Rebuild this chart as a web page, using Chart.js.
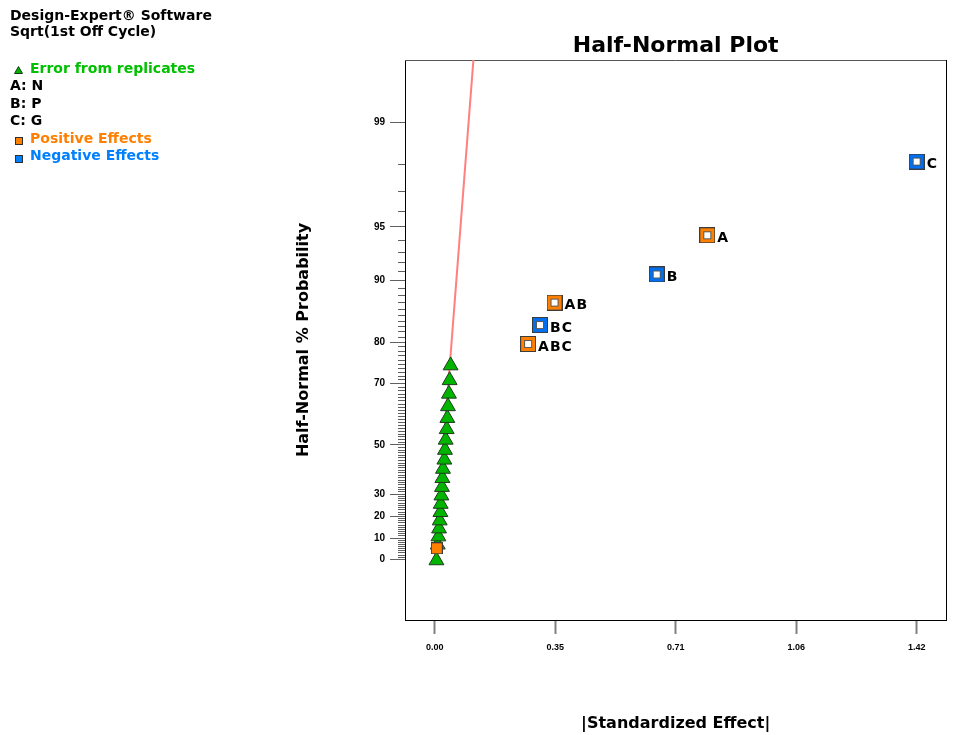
<!DOCTYPE html>
<html>
<head>
<meta charset="utf-8">
<script src="https://cdn.jsdelivr.net/npm/chart.js@4.4.1/dist/chart.umd.min.js"></script>
<style>
  html, body { margin:0; padding:0; background:#fff; width:956px; height:735px; overflow:hidden; }
  #c { position:absolute; left:0; top:0; }
  .t { position:absolute; font-family:"DejaVu Sans", sans-serif; font-weight:bold; font-size:14px; line-height:17px; white-space:nowrap; color:#000; }
  .m { position:absolute; }
</style>
</head>
<body>
<canvas id="c" width="956" height="735"></canvas>

<div class="t" style="left:10px;top:7px;">Design-Expert® Software</div>
<div class="t" style="left:10px;top:23px;">Sqrt(1st Off Cycle)</div>

<svg class="m" style="left:14px;top:66px;" width="9" height="8"><polygon points="4.5,0.5 8.5,7.5 0.5,7.5" fill="#00b400" stroke="#1a3a1a" stroke-width="1"/></svg>
<div class="t" style="left:30px;top:60px;color:#00c000;">Error from replicates</div>
<div class="t" style="left:10px;top:77px;">A: N</div>
<div class="t" style="left:10px;top:94.5px;">B: P</div>
<div class="t" style="left:10px;top:112px;">C: G</div>
<svg class="m" style="left:15px;top:137px;" width="8" height="8"><rect x="0.5" y="0.5" width="7" height="7" fill="#ff8000" stroke="#303030" stroke-width="1"/></svg>
<div class="t" style="left:30px;top:130px;color:#ff8000;">Positive Effects</div>
<svg class="m" style="left:15px;top:155px;" width="8" height="8"><rect x="0.5" y="0.5" width="7" height="7" fill="#0080ff" stroke="#303030" stroke-width="1"/></svg>
<div class="t" style="left:30px;top:147px;color:#0080ff;">Negative Effects</div>

<script>
// ---------------- data ----------------
const effectNames  = ['C', 'A', 'B', 'AB', 'BC', 'ABC', 'AC'];
const effectValues = [1.42, 0.803, 0.654, 0.353, 0.310, 0.275, 0.006];
const effectProbs  = [98.1, 94.4, 90.7, 87.0, 83.3, 79.6, 5.2];     // half-normal % probability
const effectSigns  = ['neg', 'pos', 'neg', 'pos', 'neg', 'pos', 'pos'];
const effectInModel = [true, true, true, true, true, true, false];

const errorValues = [0.005, 0.0088, 0.0108, 0.0126, 0.0146, 0.0167, 0.0175, 0.0196, 0.0213, 0.0225,
                     0.0242, 0.0283, 0.0301, 0.0321, 0.0351, 0.0371, 0.0389, 0.0418, 0.0438, 0.0467];
const errorProbs  = [-0.5, 6.9, 10.7, 14.4, 18.1, 21.9, 25.6, 29.3, 33.0, 36.8,
                     40.6, 44.3, 48.1, 51.9, 55.7, 59.5, 63.3, 67.1, 70.9, 74.7];

const lineValues = [0, 0.114];
const lineProbs  = [0, 99.68];

const xTickValues = [0, 0.355, 0.71, 1.065, 1.42];
const xTickLabels = ['0.00', '0.35', '0.71', '1.06', '1.42'];
const yMajorTicks = [0, 10, 20, 30, 50, 70, 80, 90, 95, 99];
const yMinorTicks = Array.from({length: 100}, (_, i) => i);

// ---------------- half-normal probability transform ----------------
function normInv(p) {
  const a=[-3.969683028665376e+01,2.209460984245205e+02,-2.759285104469687e+02,1.383577518672690e+02,-3.066479806614716e+01,2.506628277459239e+00];
  const b=[-5.447609879822406e+01,1.615858368580409e+02,-1.556989798598866e+02,6.680131188771972e+01,-1.328068155288572e+01];
  const c=[-7.784894002430293e-03,-3.223964580411365e-01,-2.400758277161838e+00,-2.549732539343734e+00,4.374664141464968e+00,2.938163982698783e+00];
  const d=[7.784695709041462e-03,3.224671290700398e-01,2.445134137142996e+00,3.754408661907416e+00];
  const pl = 0.02425, ph = 1 - pl;
  let q, r;
  if (p < pl) { q = Math.sqrt(-2*Math.log(p)); return (((((c[0]*q+c[1])*q+c[2])*q+c[3])*q+c[4])*q+c[5])/((((d[0]*q+d[1])*q+d[2])*q+d[3])*q+1); }
  if (p <= ph) { q = p - 0.5; r = q*q; return (((((a[0]*r+a[1])*r+a[2])*r+a[3])*r+a[4])*r+a[5])*q/(((((b[0]*r+b[1])*r+b[2])*r+b[3])*r+b[4])*r+1); }
  q = Math.sqrt(-2*Math.log(1-p)); return -(((((c[0]*q+c[1])*q+c[2])*q+c[3])*q+c[4])*q+c[5])/((((d[0]*q+d[1])*q+d[2])*q+d[3])*q+1);
}
const hn = pct => normInv(0.5 + pct / 200);

// axis ranges (in effect units / half-normal z units)
const X_MIN = -0.0877, X_MAX = 1.5077;
const Y_MIN = -0.3575, Y_MAX = 2.9446;

// scales must not ask the layout for extra padding
const NO_PAD = () => ({ left: 0, top: 0, right: 0, bottom: 0 });
function zeroPad(s) {
  s.paddingLeft = s.paddingRight = s.paddingTop = s.paddingBottom = 0;
  s.getPadding = NO_PAD;
}

// ---------------- markers ----------------
const COLORS = { pos: '#ff8000', neg: '#0070f0' };
function makeSquare(color, size, hollow) {
  const cv = document.createElement('canvas');
  cv.width = cv.height = size;
  const g = cv.getContext('2d');
  g.fillStyle = '#3c3c3c'; g.fillRect(0, 0, size, size);
  g.fillStyle = color; g.fillRect(1, 1, size - 2, size - 2);
  if (hollow) {
    g.fillStyle = '#5a5a5a'; g.fillRect(4, 4, size - 8, size - 8);
    g.fillStyle = '#ffffff'; g.fillRect(5, 5, size - 10, size - 10);
  }
  return cv;
}
const effectMarkers = effectNames.map((n, i) =>
  effectInModel[i] ? makeSquare(COLORS[effectSigns[i]], 16, true) : makeSquare(COLORS[effectSigns[i]], 12, false));

// ---------------- plugins ----------------
const framePlugin = {
  id: 'frame',
  beforeDatasetsDraw(chart) {
    const {ctx, chartArea: a} = chart;
    ctx.save();
    ctx.lineWidth = 1;
    ctx.strokeStyle = '#555';
    ctx.beginPath(); ctx.moveTo(a.left, Math.round(a.top) + 0.5); ctx.lineTo(a.right, Math.round(a.top) + 0.5); ctx.stroke();
    ctx.strokeStyle = '#000';
    ctx.beginPath(); ctx.moveTo(Math.round(a.right) + 0.5, a.top); ctx.lineTo(Math.round(a.right) + 0.5, a.bottom); ctx.stroke();
    ctx.restore();
  }
};
const labelPlugin = {
  id: 'effectLabels',
  afterDatasetsDraw(chart) {
    const meta = chart.getDatasetMeta(0);
    const {ctx} = chart;
    ctx.save();
    ctx.font = 'bold 14px "DejaVu Sans"';
    try { ctx.letterSpacing = '1px'; } catch (e) {}
    ctx.fillStyle = '#000';
    ctx.textAlign = 'left';
    ctx.textBaseline = 'middle';
    meta.data.forEach((pt, i) => {
      if (!effectInModel[i]) return;
      ctx.fillText(effectNames[i], pt.x + 10, pt.y + 3);
    });
    ctx.restore();
  }
};

// ---------------- chart ----------------
const tickFont = size => ({ family: '"Liberation Sans", Arial, sans-serif', weight: 'bold', size });
const titleFont = size => ({ family: '"DejaVu Sans", sans-serif', weight: 'bold', size });

new Chart(document.getElementById('c'), {
  type: 'scatter',
  data: {
    datasets: [
      {
        label: 'Effects',
        data: effectValues.map((v, i) => ({ x: v, y: hn(effectProbs[i]) })),
        pointStyle: effectMarkers,
        pointRadius: 8,
        order: 0
      },
      {
        label: 'Error from replicates',
        data: errorValues.map((v, i) => ({ x: v, y: hn(errorProbs[i]) })),
        pointStyle: 'triangle',
        pointRadius: 8.6,
        backgroundColor: '#00b400',
        borderColor: '#1e3c1e',
        borderWidth: 1,
        order: 1
      },
      {
        label: 'line',
        type: 'line',
        data: lineValues.map((v, i) => ({ x: v, y: hn(lineProbs[i]) })),
        borderColor: '#ff8080',
        borderWidth: 2,
        pointRadius: 0,
        fill: false,
        order: 2
      }
    ]
  },
  options: {
    responsive: false,
    animation: false,
    events: [],
    layout: { padding: { left: 290, right: 5, top: 0, bottom: 0 } },
    plugins: {
      legend: { display: false },
      tooltip: { enabled: false },
      title: {
        display: true,
        text: 'Half-Normal Plot',
        fullSize: false,
        color: '#000',
        font: titleFont(22),
        padding: { top: 33, bottom: 0.6 }
      }
    },
    scales: {
      x: {
        type: 'linear',
        position: 'bottom',
        min: X_MIN, max: X_MAX,
        afterBuildTicks: s => { s.ticks = xTickValues.map(v => ({ value: v })); },
        afterFit: s => { s.height = 115; zeroPad(s); },
        ticks: {
          callback: (v, i) => xTickLabels[i],
          font: tickFont(9), color: '#000', padding: 8,
          maxRotation: 0, autoSkip: false
        },
        grid: { drawOnChartArea: false, tickLength: 14, tickColor: '#808080', tickWidth: 2 },
        border: { color: '#000', width: 1 },
        title: {
          display: true, text: '|Standardized Effect|', color: '#000',
          font: titleFont(16), padding: { top: 0, bottom: 1.4 }
        }
      },
      y: {
        type: 'linear',
        position: 'left',
        min: Y_MIN, max: Y_MAX,
        afterBuildTicks: s => { s.ticks = yMajorTicks.map(p => ({ value: hn(p) })); },
        afterFit: s => { s.width = 115; zeroPad(s); },
        ticks: {
          callback: (v, i) => String(yMajorTicks[i]),
          font: tickFont(10), color: '#000', padding: 5, autoSkip: false
        },
        grid: { drawOnChartArea: false, tickLength: 15, tickColor: '#606060', tickWidth: 1 },
        border: { color: '#000', width: 1 },
        title: {
          display: true, text: 'Half-Normal % Probability', color: '#000',
          font: titleFont(16), padding: { top: 4.4, bottom: 0 }
        }
      },
      yMinor: {
        type: 'linear',
        position: { x: X_MIN },
        min: Y_MIN, max: Y_MAX,
        afterBuildTicks: s => { s.ticks = yMinorTicks.map(p => ({ value: hn(p) })); },
        afterFit: s => { zeroPad(s); },
        ticks: { display: false, autoSkip: false },
        grid: { drawOnChartArea: false, tickLength: 7, tickColor: '#606060', tickWidth: 1 },
        border: { display: false }
      }
    }
  },
  plugins: [framePlugin, labelPlugin]
});
</script>
</body>
</html>
